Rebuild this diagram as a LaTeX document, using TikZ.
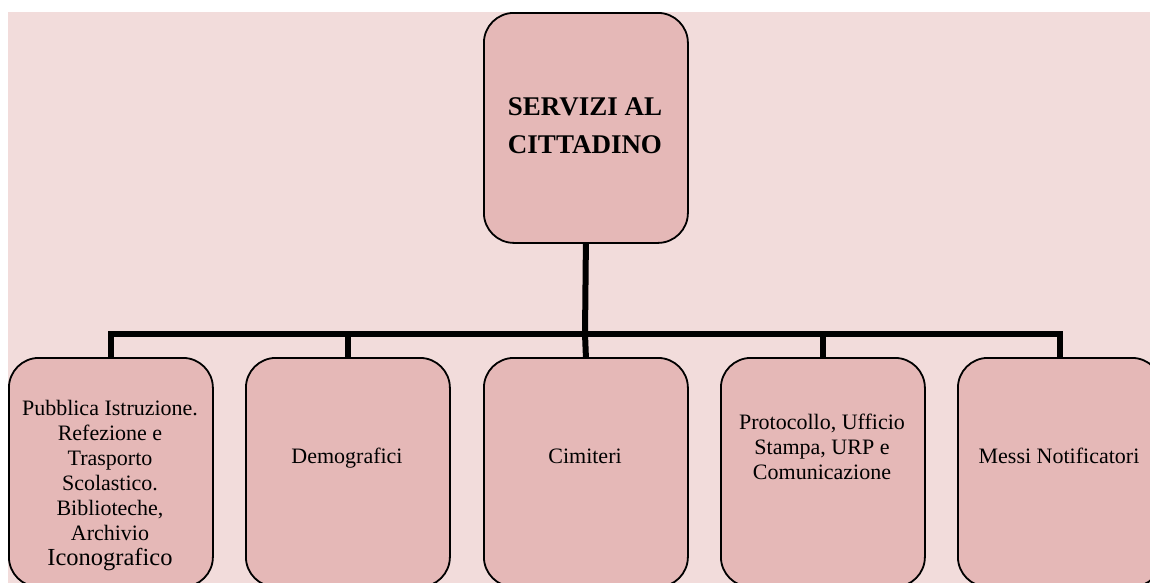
\documentclass[tikz,border=0pt]{standalone}
\usepackage{fontspec}
\setmainfont{Liberation Serif}
\definecolor{bgpink}{HTML}{F2DCDB}
\definecolor{boxfill}{HTML}{E5B8B7}
\begin{document}
\begin{tikzpicture}[x=1pt,y=-1pt,
  box/.style={draw=black, line width=1.8pt, fill=boxfill, rounded corners=30pt,
    minimum width=204pt, inner sep=0pt, anchor=north west},
  conn/.style={draw=black, line width=6pt},
  lbl/.style={font=\fontsize{22}{25}\selectfont, align=center, inner sep=0pt, anchor=base},
  toplbl/.style={font=\bfseries\fontsize{27}{38}\selectfont, align=center, inner sep=0pt, anchor=base}]
\useasboundingbox (0,0) rectangle (1150,582);
\clip (0,0) rectangle (1150,582);
\fill[bgpink] (8,12) rectangle (1170,600);
% connectors
\coordinate (bar) at (585,334);
% boxes
\node[box, minimum height=230pt] (top) at (483,12) {};
\node[box, minimum height=229pt] (c1) at (8,357) {};
\node[box, minimum height=229pt] (c2) at (245,357) {};
\node[box, minimum height=229pt] (c3) at (483,357) {};
\node[box, minimum height=229pt] (c4) at (720,357) {};
\node[box, minimum height=229pt] (c5) at (957,357) {};
\draw[conn] (top.south) -- (bar);
\draw[conn] (bar) -| (c1.north);
\draw[conn] (bar) -| (c2.north);
\draw[conn] (bar) -- (c3.north);
\draw[conn] (bar) -| (c4.north);
\draw[conn] (bar) -| (c5.north);
% labels
\node[toplbl] (ttop) at (585,153) {SERVIZI AL\\CITTADINO};
\node[lbl] (t1) at (110,565) {Pubblica Istruzione.\\Refezione e\\Trasporto\\Scolastico.\\Biblioteche,\\Archivio\\{\fontsize{24.5}{25}\selectfont Iconografico}};
\node[lbl] (t2) at (347,463) {Demografici};
\node[lbl] (t3) at (585,463) {Cimiteri};
\node[lbl] (t4) at (822,479) {Protocollo, Ufficio\\Stampa, URP e\\Comunicazione};
\node[lbl] (t5) at (1059,463) {Messi Notificatori};
\end{tikzpicture}
\end{document}
